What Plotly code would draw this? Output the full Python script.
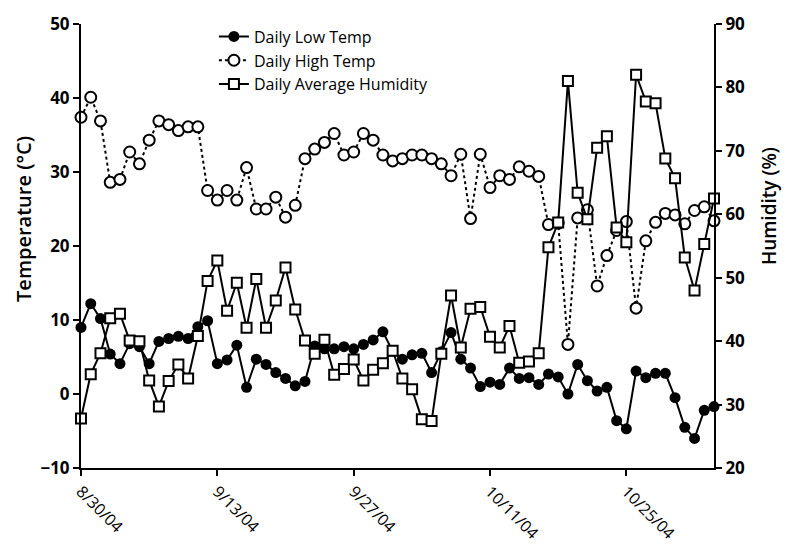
import pandas as pd
import plotly.graph_objects as go

start_date = "2004-08-30"
n_days = 66
dates = pd.date_range(start_date, periods=n_days, freq="D")

low_temp = [9.0, 12.2, 10.2, 5.4, 4.1, 6.8, 6.4, 4.1, 7.1, 7.5,
            7.8, 7.5, 9.1, 9.9, 4.1, 4.6, 6.6, 0.9, 4.7, 4.0,
            2.9, 2.1, 1.1, 1.7, 6.5, 6.1, 6.1, 6.4, 6.1, 6.7,
            7.3, 8.4, 5.8, 4.7, 5.3, 5.5, 2.9, 5.7, 8.3, 4.7,
            3.5, 1.0, 1.6, 1.3, 3.5, 2.1, 2.2, 1.3, 2.7, 2.3,
            0.0, 4.0, 1.8, 0.4, 0.9, -3.6, -4.7, 3.1, 2.2, 2.8,
            2.8, -0.5, -4.5, -6.0, -2.2, -1.7]

high_temp = [37.4, 40.1, 36.9, 28.6, 29.0, 32.7, 31.1, 34.3, 36.9, 36.4,
             35.6, 36.1, 36.1, 27.5, 26.2, 27.5, 26.2, 30.6, 25.0, 25.0,
             26.6, 23.9, 25.5, 31.8, 33.1, 34.0, 35.2, 32.3, 32.7, 35.2,
             34.3, 32.3, 31.5, 31.8, 32.3, 32.3, 31.8, 31.1, 29.5, 32.4,
             23.7, 32.4, 27.9, 29.5, 29.0, 30.7, 30.1, 29.4, 22.9, 23.1,
             6.7, 23.8, 24.9, 14.6, 18.7, 22.1, 23.3, 11.6, 20.7, 23.2,
             24.4, 24.2, 23.0, 24.8, 25.3, 23.4]

humidity = [27.8, 34.8, 38.1, 43.6, 44.3, 40.1, 40.0, 33.8, 29.7, 33.7,
            36.3, 34.1, 40.8, 49.5, 52.7, 44.8, 49.2, 42.1, 49.8, 42.1,
            46.4, 51.6, 45.0, 40.1, 38.0, 40.2, 34.7, 35.6, 37.1, 33.8,
            35.5, 36.5, 38.5, 34.1, 32.4, 27.7, 27.4, 38.0, 47.2, 39.0,
            45.1, 45.4, 40.7, 39.0, 42.4, 36.6, 36.8, 38.1, 54.8, 58.7,
            81.0, 63.4, 59.2, 70.5, 72.3, 57.9, 55.6, 82.0, 77.8, 77.5,
            68.8, 65.7, 53.2, 48.0, 55.3, 62.5]

tick_dates = ["2004-08-30", "2004-09-13", "2004-09-27", "2004-10-11", "2004-10-25"]
tick_labels = ["8/30/04", "9/13/04", "9/27/04", "10/11/04", "10/25/04"]

FONT = "Open Sans, Lato, sans-serif"

fig = go.Figure()
fig.add_trace(go.Scatter(
    x=dates, y=low_temp, name="Daily Low Temp", mode="lines+markers",
    line=dict(color="black", width=2),
    marker=dict(symbol="circle", size=11, color="black"),
    cliponaxis=False))
fig.add_trace(go.Scatter(
    x=dates, y=high_temp, name="Daily High Temp", mode="lines+markers",
    line=dict(color="black", width=2, dash="dot"),
    marker=dict(symbol="circle", size=11, color="white",
                line=dict(color="black", width=2)),
    cliponaxis=False))
fig.add_trace(go.Scatter(
    x=dates, y=humidity, name="Daily Average Humidity", mode="lines+markers",
    yaxis="y2",
    line=dict(color="black", width=2),
    marker=dict(symbol="square", size=10, color="white",
                line=dict(color="black", width=2)),
    cliponaxis=False))

axis_common = dict(
    showgrid=False, zeroline=False, automargin=False,
    showline=True, linecolor="black", linewidth=2,
    ticks="outside", ticklen=6, tickwidth=2, tickcolor="black",
)

fig.update_layout(
    width=776, height=536,
    margin=dict(l=73, r=70, t=14, b=76),
    paper_bgcolor="white", plot_bgcolor="white",
    font=dict(family=FONT, color="black", size=16),
    showlegend=True,
    legend=dict(x=0.21, y=1.01, xanchor="left", yanchor="top",
                bgcolor="rgba(0,0,0,0)", font=dict(size=16, family=FONT),
                tracegroupgap=0),
    xaxis=dict(
        type="date", range=[dates[0], dates[-1]],
        tickvals=tick_dates, ticktext=tick_labels, tickangle=45,
        tickfont=dict(size=16, family=FONT), **axis_common),
    yaxis=dict(
        range=[-10, 50], dtick=10,
        tickfont=dict(size=17, family=FONT, weight="bold"), **axis_common),
    yaxis2=dict(
        range=[20, 90], dtick=10, overlaying="y", side="right",
        tickfont=dict(size=17, family=FONT, weight="bold"), **axis_common),
    annotations=[
        dict(text="Temperature (°C)", xref="paper", yref="paper",
             x=-0.090, y=0.561, textangle=-90, showarrow=False,
             xanchor="center", yanchor="middle",
             font=dict(size=20, family=FONT, weight=600)),
        dict(text="Humidity (%)", xref="paper", yref="paper",
             x=1.0870, y=0.590, textangle=-90, showarrow=False,
             xanchor="center", yanchor="middle",
             font=dict(size=19, family=FONT, weight=600)),
    ],
)

fig.write_html("out.html")
